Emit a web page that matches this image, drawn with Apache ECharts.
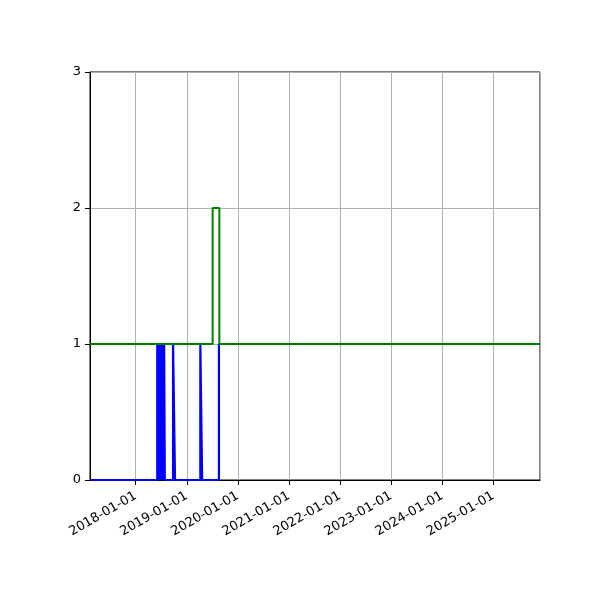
<!DOCTYPE html>
<html>
<head>
<meta charset="utf-8">
<script src="https://cdn.jsdelivr.net/npm/echarts@6/dist/echarts.min.js"></script>
<style>
  html, body { margin: 0; padding: 0; background: #fff; }
  #chart { width: 600px; height: 600px; }
</style>
</head>
<body>
<div id="chart"></div>
<script>
var xMin = '2017-02-08';
var xMax = '2025-12-01';
var yTicks = [0, 1, 2, 3];

// blue series: step-post, value holds until next date
var blueDates = ['2017-02-08', '2018-06-04', '2018-06-08', '2018-06-11', '2018-06-15', '2018-06-18',
    '2018-06-21', '2018-06-25', '2018-06-29', '2018-07-02', '2018-07-06', '2018-07-09', '2018-07-13',
    '2018-07-16', '2018-07-20', '2018-07-23', '2018-07-28', '2018-09-25', '2018-10-09',
    '2019-04-08', '2019-04-21', '2019-08-19', '2025-12-01'];
var blueValues = [0, 1, 0, 1, 0, 1,
    0, 1, 0, 1, 0, 1, 0,
    1, 0, 1, 0, 1, 0,
    1, 0, 1, 1];

// green series
var greenDates = ['2017-02-08', '2019-07-05', '2019-08-22', '2025-12-01'];
var greenValues = [1, 2, 1, 1];

function pairs(dates, values) {
    var out = [];
    for (var i = 0; i < dates.length; i++) {
        out.push([dates[i], values[i]]);
    }
    return out;
}

var font = 'DejaVu Sans';
var chart = echarts.init(document.getElementById('chart'));
var option = {
    animation: false,
    grid: {
        left: 90,
        right: 60,
        top: 72,
        bottom: 120,
        show: true,
        borderColor: '#000',
        borderWidth: 1,
        containLabel: false
    },
    xAxis: {
        type: 'time',
        min: xMin,
        max: xMax,
        minInterval: 365 * 86400000,
        maxInterval: 366 * 86400000,
        axisLine: { show: true, lineStyle: { color: '#000', width: 1 } },
        axisTick: { show: true, length: 5, lineStyle: { color: '#000' } },
        splitLine: { show: true, lineStyle: { color: '#b0b0b0', width: 1 } },
        axisLabel: {
            rotate: 30,
            color: '#000',
            fontFamily: font,
            fontSize: 13,
            margin: 15,
            showMinLabel: false,
            showMaxLabel: false,
            formatter: '{yyyy}-{MM}-{dd}'
        }
    },
    yAxis: {
        type: 'value',
        min: yTicks[0],
        max: yTicks[yTicks.length - 1],
        interval: 1,
        axisLine: { show: true, lineStyle: { color: '#000', width: 1 } },
        axisTick: { show: true, length: 5, lineStyle: { color: '#000' } },
        splitLine: { show: true, lineStyle: { color: '#b0b0b0', width: 1 } },
        axisLabel: {
            color: '#000',
            fontFamily: font,
            fontSize: 13,
            margin: 9
        }
    },
    series: [{
        name: 'blue',
        type: 'line',
        step: 'end',
        showSymbol: false,
        symbol: 'none',
        data: pairs(blueDates, blueValues),
        lineStyle: { color: '#0000ff', width: 2.2 },
        z: 2
    }, {
        name: 'green',
        type: 'line',
        step: 'end',
        showSymbol: false,
        symbol: 'none',
        data: pairs(greenDates, greenValues),
        lineStyle: { color: '#008000', width: 2 },
        z: 3
    }]
};
chart.setOption(option);
</script>
</body>
</html>
